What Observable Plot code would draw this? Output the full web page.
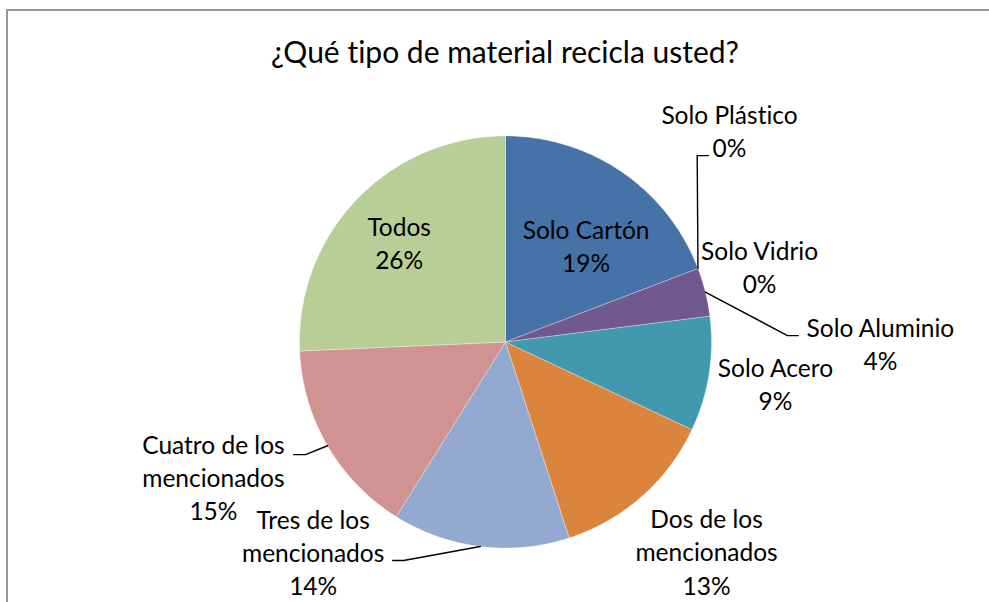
<!DOCTYPE html>
<html>
<head>
<meta charset="utf-8">
<script src="https://cdn.jsdelivr.net/npm/d3@7"></script>
<script src="https://cdn.jsdelivr.net/npm/@observablehq/plot@0.6"></script>
<style>
  html, body { margin: 0; padding: 0; background: #fff; overflow: hidden; }
  #wrap { position: relative; width: 989px; height: 602px; overflow: hidden; font-family: Lato, "Open Sans", sans-serif;
          font-variant-ligatures: none; font-feature-settings: "liga" 0, "clig" 0; }
  #wrap text { font-variant-ligatures: none; font-feature-settings: "liga" 0, "clig" 0; }
  #frame { position: absolute; left: 6px; top: 9px; width: 1100px; height: 700px;
           border-top: 2px solid #979797; border-left: 2px solid #979797; }
  #title { position: absolute; left: 0; top: 36px; width: 1010px; text-align: center;
           font-size: 30px; line-height: 1; color: #000; white-space: nowrap; }
  #chart { position: absolute; left: 0; top: 0; }
</style>
</head>
<body>
<div id="wrap">
  <div id="frame"></div>
  <div id="title"></div>
  <div id="chart"></div>
</div>
<script>
// ---- data ----
const title = "¿Qué tipo de material recicla usted?";
const categories = ["Solo Cartón", "Solo Plástico", "Solo Vidrio", "Solo Aluminio", "Solo Acero",
  "Dos de los mencionados", "Tres de los mencionados", "Cuatro de los mencionados", "Todos"];
const labelNames = ["Solo Cartón", "Solo Plástico", "Solo Vidrio", "Solo Aluminio", "Solo Acero",
  "Dos de los\nmencionados", "Tres de los\nmencionados", "Cuatro de los\nmencionados", "Todos"];
const values = [19.2, 0, 0, 3.8, 9.0, 13.0, 13.9, 15.4, 25.7];
const colors = ["#4572A7", "#AA4643", "#89A54E", "#71588F", "#4198AF", "#DB843D", "#93A9CF", "#D19392", "#B9CD96"];

// ---- layout (label placement in pie-radius units, angles clockwise from 12 o'clock) ----
const labelRadius = [0.60, 1.487, 1.283, 1.82, 1.328, 1.418, 1.39, 1.567, 0.70];
const labelAngle = [40.7, 47.0, 74.0, 90.6, 99.3, 136.5, 222.2, 244.8, 312.5];
const leaders = [
  {slice: 1, r: 1.298, a: 45.8, run: 0.055},
  {slice: 3, r: 1.369, a: 88.7, run: 0.053},
  {slice: 6, r: 1.17, a: 205.0, run: -0.053},
  {slice: 7, r: 1.114, a: 240.6, run: -0.058}
];

document.getElementById("title").textContent = title;

const R = 206, cx = 505, cy = 341.5, W = 989, H = 602;
const rad = d => d * Math.PI / 180;
const px = (r, a) => r * Math.sin(rad(a));
const py = (r, a) => r * Math.cos(rad(a));

const total = d3.sum(values);
let cum = 0;
const slices = categories.map((c, i) => {
  const a0 = cum / total * 360; cum += values[i]; const a1 = cum / total * 360;
  return {name: c, i, a0, a1, mid: (a0 + a1) / 2, value: values[i]};
});

const pieRows = slices.filter(s => s.value > 0).flatMap(s => {
  const n = Math.max(2, Math.ceil((s.a1 - s.a0) / 0.5));
  const pts = [{name: s.name, x: 0, y: 0}];
  for (let k = 0; k <= n; k++) {
    const a = s.a0 + (s.a1 - s.a0) * k / n;
    pts.push({name: s.name, x: px(1, a), y: py(1, a)});
  }
  pts.push({name: s.name, x: 0, y: 0});
  return pts;
});

const fmt = d3.format(".0%");
const labelRows = slices.map(s => ({
  text: labelNames[s.i] + "\n" + fmt(s.value / total),
  x: px(labelRadius[s.i], labelAngle[s.i]),
  y: py(labelRadius[s.i], labelAngle[s.i])
}));

const leaderRows = leaders.flatMap((l, j) => {
  const s = slices[l.slice];
  const ex = px(l.r, l.a), ey = py(l.r, l.a);
  return [
    {id: j, x: px(1, s.mid), y: py(1, s.mid)},
    {id: j, x: ex, y: ey},
    {id: j, x: ex + l.run, y: ey}
  ];
});

const chart = Plot.plot({
  width: W, height: H, margin: 0,
  x: {domain: [-cx / R, (W - cx) / R], axis: null},
  y: {domain: [-(H - cy) / R, cy / R], axis: null},
  color: {domain: categories, range: colors},
  style: {background: "transparent", overflow: "visible", fontFamily: "Lato, sans-serif"},
  marks: [
    Plot.line(pieRows, {x: "x", y: "y", z: "name", fill: "name", stroke: "white", strokeWidth: 0.6, strokeOpacity: 0.5, curve: "linear"}),
    Plot.line(leaderRows, {x: "x", y: "y", z: "id", stroke: "black", strokeWidth: 1.4, curve: "linear"}),
    Plot.text(labelRows, {x: "x", y: "y", text: "text", fontSize: 24.5, lineHeight: 1.35, dy: -3, fill: "black"})
  ]
});
document.getElementById("chart").appendChild(chart);
</script>
</body>
</html>
